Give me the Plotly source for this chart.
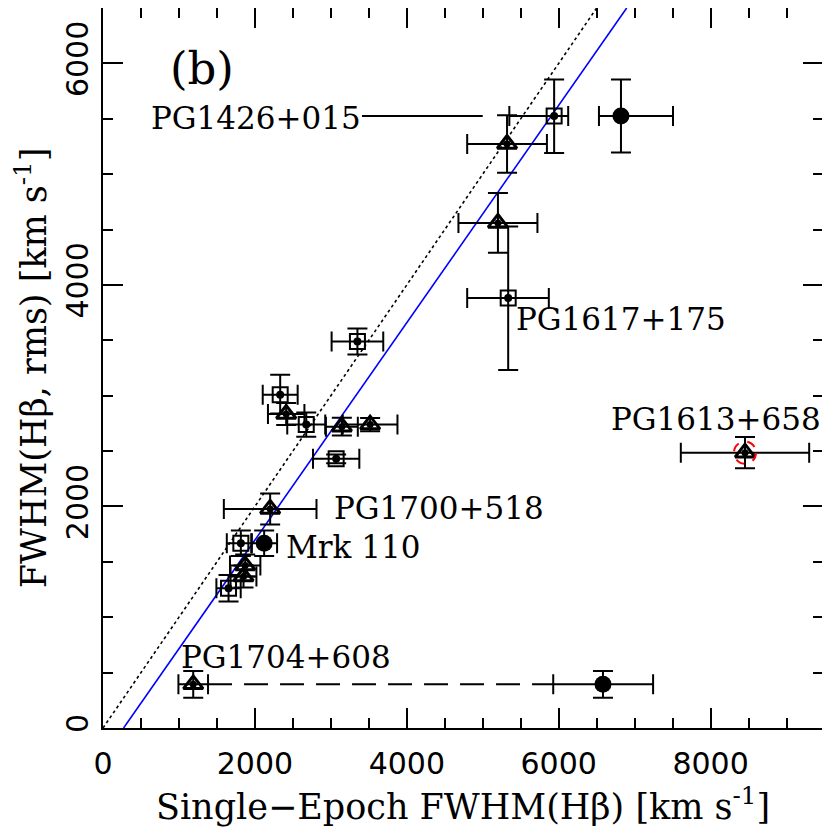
"""FWHM(Hβ, rms) versus single-epoch FWHM(Hβ), panel (b)."""

import plotly.graph_objects as go

# ── Data (km/s) ──────────────────────────────────────────────────

# open squares with a central dot
sq_x = [5940, 5335, 3350, 2333, 2676, 3070, 1815, 1653]
sq_y = [5525, 3882, 3490, 3009, 2739, 2430, 1668, 1262]
sq_xerr_plus = [185, 535, 340, 230, 250, 305, 145, 160]
sq_xerr_minus = [590, 540, 340, 230, 250, 305, 185, 160]
sq_yerr_plus = [330, 645, 117, 180, 110, 40, 115, 120]
sq_yerr_minus = [335, 650, 117, 170, 110, 40, 115, 120]

# open triangles
tr_x = [5320, 5200, 2412, 3145, 3517, 2201, 1872, 1850, 8453, 1188]
tr_y = [5272, 4560, 2835, 2720, 2739, 1978, 1467, 1368, 2486, 394]
tr_xerr = [525, 520, 240, 210, 360, 610, 200, 170, 845, 195]
tr_yerr = [260, 270, 100, 80, 60, 140, 100, 100, 142, 120]

# filled circles
ci_x = [6820, 2122, 6583]
ci_y = [5525, 1668, 394]
ci_xerr_plus = [685, 170, 660]
ci_xerr_minus = [290, 170, 655]
ci_yerr = [330, 115, 120]

# PG1426+015 label leader
lead_x = [3410, 5000]
lead_y = [5525, 5525]

# fits: 1:1 (dotted) and best fit (blue)
one_x = [0, 6500]
one_y = [0, 6500]
fit_x = [271, 6895]
fit_y = [0, 6500]

labels = ["(b)", "PG1426+015", "PG1617+175", "PG1613+658",
          "PG1700+518", "Mrk 110", "PG1704+608"]
label_x = [860, 600, 5410, 6660, 3010, 2380, 1000]
label_y = [5950, 5506, 3695, 2790, 1990, 1630, 638]
label_size = [45, 31, 31, 31, 31, 31, 31]

SERIF = "DejaVu Serif"
SANS = "DejaVu Sans"

fig = go.Figure()

fig.add_trace(go.Scatter(x=one_x, y=one_y, mode="lines",
                         line=dict(color="black", width=1.6, dash="dot")))
fig.add_trace(go.Scatter(x=fit_x, y=fit_y, mode="lines",
                         line=dict(color="#0000ff", width=1.6)))
fig.add_trace(go.Scatter(x=lead_x, y=lead_y, mode="lines",
                         line=dict(color="black", width=2)))

# PG1704+608: dashed link between triangle and circle error bars
fig.add_trace(go.Scatter(
    x=[tr_x[9] + tr_xerr[9], ci_x[2] - ci_xerr_minus[2]],
    y=[tr_y[9], ci_y[2]], mode="lines",
    line=dict(color="black", width=2, dash="24px,12px")))

ebar = dict(color="black", thickness=2, width=10)

fig.add_trace(go.Scatter(
    x=sq_x, y=sq_y, mode="markers",
    marker=dict(symbol="square-open", size=15, color="black", line=dict(width=2)),
    error_x=dict(type="data", array=sq_xerr_plus, arrayminus=sq_xerr_minus, **ebar),
    error_y=dict(type="data", array=sq_yerr_plus, arrayminus=sq_yerr_minus, **ebar)))
fig.add_trace(go.Scatter(x=sq_x, y=sq_y, mode="markers",
                         marker=dict(symbol="circle", size=8, color="black")))

fig.add_trace(go.Scatter(
    x=tr_x, y=tr_y, mode="markers",
    marker=dict(symbol="triangle-up-open", size=17, color="black", line=dict(width=3)),
    error_x=dict(type="data", array=tr_xerr, **ebar),
    error_y=dict(type="data", array=tr_yerr, **ebar)))
fig.add_trace(go.Scatter(x=tr_x, y=tr_y, mode="markers",
                         marker=dict(symbol="circle", size=7, color="black")))

fig.add_trace(go.Scatter(
    x=ci_x, y=ci_y, mode="markers",
    marker=dict(symbol="circle", size=17, color="black"),
    error_x=dict(type="data", array=ci_xerr_plus, arrayminus=ci_xerr_minus, **ebar),
    error_y=dict(type="data", array=ci_yerr, **ebar)))

# dashed red ring around PG1613+658
rx, ry = 145, 100
fig.add_shape(type="circle", xref="x", yref="y",
              x0=tr_x[8] - rx, x1=tr_x[8] + rx, y0=tr_y[8] - ry, y1=tr_y[8] + ry,
              line=dict(color="red", width=2, dash="dash"))

for txt, lx, ly, sz in zip(labels, label_x, label_y, label_size):
    fig.add_annotation(x=lx, y=ly, text=txt, showarrow=False,
                       xanchor="left", yanchor="middle",
                       font=dict(family=SERIF, size=sz, color="black"))

axis = dict(showline=True, linewidth=2, linecolor="black", mirror="allticks",
            ticks="inside", ticklen=20, tickwidth=2, tickcolor="black",
            showgrid=False, zeroline=False,
            tickfont=dict(family=SANS, size=30, color="black"),
            minor=dict(ticks="inside", ticklen=10, tickwidth=2,
                       tickcolor="black", dtick=500, showgrid=False))

fig.update_xaxes(**axis, range=[0, 9480], dtick=2000, tick0=0,
                 ticklabelstandoff=8,
                 title=dict(text="Single\u2212Epoch FWHM(H\u03b2) [km s<sup>-1</sup>]",
                            font=dict(family=SERIF, size=35, color="black"),
                            standoff=8))
fig.update_yaxes(**axis, range=[0, 6500], dtick=2000, tick0=0,
                 tickangle=-90, ticklabelstandoff=1,
                 title=dict(text="FWHM(H\u03b2, rms) [km s<sup>-1</sup>]",
                            font=dict(family=SERIF, size=35, color="black"),
                            standoff=22))

# the page body adds an 8px offset, so margins are trimmed to compensate
fig.update_layout(width=830, height=830, showlegend=False,
                  plot_bgcolor="white", paper_bgcolor="white",
                  margin=dict(l=95, r=15, t=0, b=110, autoexpand=False))

fig.write_html("out.html")
